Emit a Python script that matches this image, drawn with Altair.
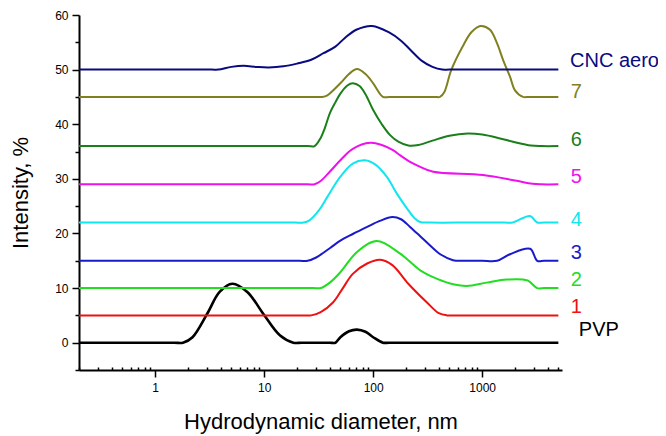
import altair as alt
import pandas as pd

# ---- data ----
series_names = ["PVP", "1", "2", "3", "4", "5", "6", "7", "CNC aero"]
series_colors = ["#000000", "#ee1111", "#22dd22", "#1a1acc", "#11e5ee",
                 "#ee11ee", "#1a7f1a", "#808020", "#0a0a80"]

pvp_x = [0.2, 0.8, 1.5, 1.8, 2.2, 3.0, 3.9, 5.1, 7.0, 9.8, 14, 18.5, 22, 30, 40, 45, 50, 60, 71, 85, 100, 123, 140, 500, 5000]
pvp_y = [0, 0, 0, 0, 1.0, 5.3, 9.3, 10.8, 9.3, 5.3, 1.3, 0, 0, 0, 0, 0, 1.0, 2.1, 2.4, 2.0, 1.0, 0, 0, 0, 0]

s1_x = [0.2, 5, 23, 27, 33, 43, 52, 65, 88, 116, 150, 210, 310, 400, 475, 560, 1500, 5000]
s1_y = [5, 5, 5, 5, 5.6, 7.4, 9.8, 12.6, 14.5, 15.2, 14.2, 10.8, 7.4, 5.4, 5, 5, 5, 5]

s2_x = [0.2, 5, 28, 33, 40, 50, 71, 108, 177, 270, 355, 500, 720, 1100, 1680, 2600, 3200, 3700, 5000]
s2_y = [10, 10, 10, 10, 11, 12.9, 16.6, 18.6, 16.3, 13.25, 12.0, 10.9, 10.4, 11.0, 11.55, 11.4, 10, 10, 10]

s3_x = [0.2, 5, 21, 25, 30, 40, 50, 65, 88, 115, 150, 180, 218, 270, 333, 420, 540, 700, 1000, 1370, 1800, 2750, 3200, 3700, 5000]
s3_y = [15, 15, 15, 15, 15.6, 17.3, 18.7, 19.9, 21.2, 22.3, 23.0, 22.6, 21.2, 19.5, 17.8, 16.1, 15.1, 15, 15, 15, 16.2, 17.2, 15, 15, 15]

s4_x = [0.2, 5, 19, 23, 26, 32, 38, 50, 65, 84, 105, 133, 165, 204, 240, 270, 330, 800, 1600, 1900, 2750, 3200, 3700, 5000]
s4_y = [22, 22, 22, 22, 22.4, 24.3, 26.7, 30.4, 32.8, 33.4, 32.6, 30.4, 27.3, 24.6, 22.8, 22.1, 22, 22, 22, 22, 23.2, 22, 22, 22]

s5_x = [0.2, 5, 25, 29, 33, 40, 50, 65, 94, 120, 152, 177, 218, 270, 355, 1020, 2000, 2900, 3500, 5000]
s5_y = [29, 29, 29, 29, 29.6, 31.3, 33.4, 35.5, 36.6, 36.2, 35.25, 34.3, 33.1, 32.2, 31.3, 30.7, 29.7, 29.1, 29, 29]

s6_x = [0.2, 5, 25, 29, 33, 36, 40, 45, 50, 58, 65, 75, 85, 100, 120, 143, 170, 210, 260, 350, 500, 740, 1000, 1460, 2000, 2800, 3500, 5000]
s6_y = [36, 36, 36, 36, 37.5, 39.3, 42, 44, 45.6, 47.1, 47.5, 47, 45.5, 42.6, 40, 38, 36.8, 36.1, 36.2, 37, 37.9, 38.3, 38.1, 37.4, 36.7, 36.1, 36, 36]

s7_x = [0.2, 5, 30, 34, 38, 50, 60, 71, 85, 100, 123, 140, 250, 370, 410, 450, 520, 660, 800, 970, 1180, 1370, 1560, 1800, 2000, 2370, 2700, 5000]
s7_y = [45, 45, 45, 45, 45.3, 47.5, 49.2, 50.1, 49.2, 47.5, 45, 45, 45, 45, 45, 45.9, 49.9, 54.2, 56.9, 58.0, 57.3, 54.8, 51.7, 48.7, 46.2, 45, 45, 45]

cnc_x = [0.2, 1.0, 3.3, 3.8, 5, 6.5, 8.5, 11, 15, 20, 27, 35, 45, 55, 70, 98, 140, 180, 220, 280, 350, 430, 500, 1500, 5000]
cnc_y = [50, 50, 50, 50, 50.5, 50.7, 50.5, 50.4, 50.6, 51.1, 51.8, 53, 54.2, 55.8, 57.3, 58.0, 56.8, 55.3, 53.6, 51.6, 50.5, 50, 50, 50, 50]

series_x = [pvp_x, s1_x, s2_x, s3_x, s4_x, s5_x, s6_x, s7_x, cnc_x]
series_y = [pvp_y, s1_y, s2_y, s3_y, s4_y, s5_y, s6_y, s7_y, cnc_y]

label_x = [7700, 6500, 6500, 6500, 6500, 6500, 6500, 6500, 6400]
label_y = [2.25, 6.5, 11.4, 16.4, 22.4, 30.3, 37.1, 45.9, 51.6]

x_major = [1, 10, 100, 1000]
x_minor = [0.2, 0.3, 0.4, 0.5, 0.6, 0.7, 0.8, 0.9,
           2, 3, 4, 5, 6, 7, 8, 9,
           20, 30, 40, 50, 60, 70, 80, 90,
           200, 300, 400, 500, 600, 700, 800, 900,
           2000, 3000, 4000, 5000]
y_major = [0, 10, 20, 30, 40, 50, 60]
y_minor = [-5, 5, 15, 25, 35, 45, 55]

# ---- build tables ----
rows = []
for name, xs, ys in zip(series_names, series_x, series_y):
    for i, (xv, yv) in enumerate(zip(xs, ys)):
        rows.append({"series": name, "d": xv, "v": yv, "order": i})
df = pd.DataFrame(rows)
lab = pd.DataFrame({"series": series_names, "lx": label_x, "ly": label_y})

W, H = 483, 355
FONT = "Liberation Sans"

xscale = alt.Scale(type="log", domain=[0.2, 5400], nice=False)
yscale = alt.Scale(domain=[-5, 60], nice=False, zero=False)
cscale = alt.Scale(domain=series_names, range=series_colors)

lines = alt.Chart(df).mark_line(interpolate="catmull-rom").encode(
    x=alt.X("d:Q", scale=xscale,
            axis=alt.Axis(orient="bottom", values=x_major, format="~g",
                          title="Hydrodynamic diameter, nm", tickSize=7,
                          labelPadding=5, titlePadding=18, grid=False)),
    y=alt.Y("v:Q", scale=yscale,
            axis=alt.Axis(orient="left", values=y_major, format="d",
                          title="Intensity, %", tickSize=7, labelPadding=4,
                          titlePadding=22, grid=False)),
    color=alt.Color("series:N", scale=cscale, legend=None),
    strokeWidth=alt.condition(alt.datum.series == "PVP", alt.value(2.6), alt.value(2)),
    order="order:Q",
)

labels = alt.Chart(lab).mark_text(align="left", baseline="middle",
                                  fontSize=20, font=FONT).encode(
    x=alt.X("lx:Q", scale=xscale,
            axis=alt.Axis(orient="top", offset=-H, values=x_minor, labels=False,
                          domain=False, tickSize=3, title=None, grid=False)),
    y=alt.Y("ly:Q", scale=yscale,
            axis=alt.Axis(orient="left", values=y_minor, labels=False,
                          domain=False, tickSize=4, title=None, grid=False)),
    text="series:N",
    color=alt.Color("series:N", scale=cscale, legend=None),
)

chart = alt.layer(lines, labels).resolve_axis(
    x="independent", y="independent"
).properties(
    width=W, height=H,
    autosize=alt.AutoSizeParams(type="none"),
    padding={"left": 71, "top": 7, "right": 96, "bottom": 64},
).configure_view(stroke=None).configure_axis(
    labelFont=FONT, titleFont=FONT, labelFontSize=12, titleFontSize=22,
    titleFontWeight="normal", labelColor="black", titleColor="black",
    domainColor="black", domainWidth=2, tickColor="black", tickWidth=1.5,
)

chart.save("out.html", embed_options={"renderer": "svg", "actions": False})
